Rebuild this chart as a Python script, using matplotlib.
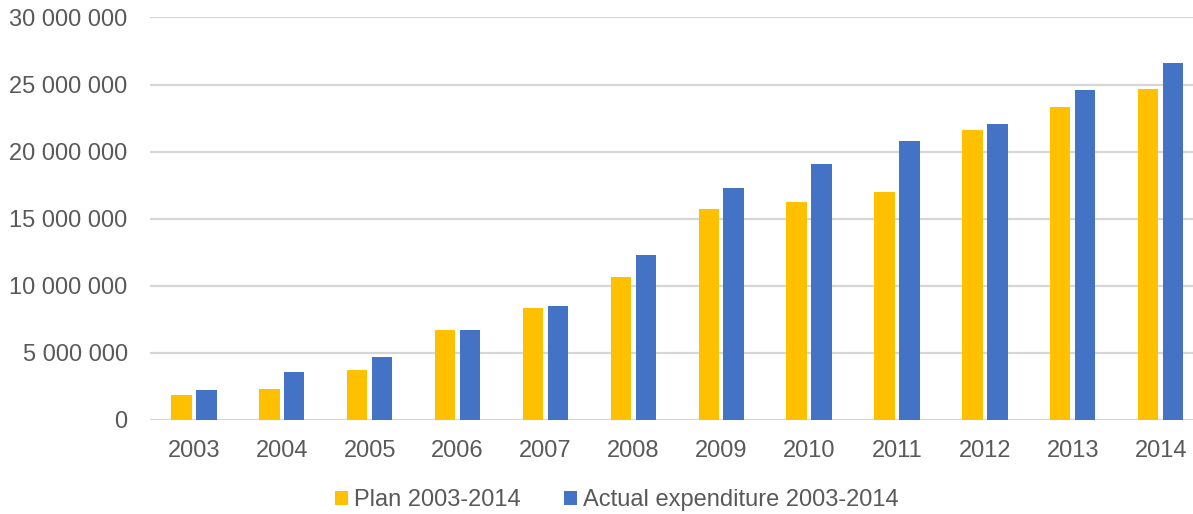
import numpy as np
import matplotlib.pyplot as plt
from matplotlib.ticker import FuncFormatter

plt.rcParams['font.family'] = ['Liberation Sans', 'DejaVu Sans']

years = ['2003', '2004', '2005', '2006', '2007', '2008',
         '2009', '2010', '2011', '2012', '2013', '2014']
plan = [1820000, 2290000, 3680000, 6670000, 8310000, 10620000,
        15730000, 16230000, 17000000, 21580000, 23340000, 24640000]
actual = [2210000, 3530000, 4650000, 6670000, 8500000, 12260000,
          17250000, 19090000, 20800000, 22070000, 24560000, 26620000]

PLAN_COLOR = '#FFC000'
ACTUAL_COLOR = '#4472C4'
TEXT_COLOR = '#595959'

fig = plt.figure(figsize=(11.93, 5.14), dpi=100)
ax = fig.add_axes([0.1257, 0.1835, 0.884, 0.7825])

x = np.arange(len(years))
w = 0.232
ax.bar(x - 0.142, plan, width=w, color=PLAN_COLOR, label='Plan 2003-2014', zorder=3)
ax.bar(x + 0.142, actual, width=w, color=ACTUAL_COLOR, label='Actual expenditure 2003-2014', zorder=3)

ax.set_xlim(-0.5, len(years) - 0.5)
ax.set_ylim(0, 30000000)
ax.set_yticks(np.arange(0, 30000001, 5000000))
ax.yaxis.set_major_formatter(FuncFormatter(lambda v, p: '{:,.0f}'.format(v).replace(',', ' ')))
ax.set_xticks(x)
ax.set_xticklabels(years)

# light grey gridlines, no frame
ax.grid(axis='y', color='#D6D6D6', linewidth=1.6, zorder=0)
for s in ax.spines.values():
    s.set_visible(False)
ax.tick_params(axis='both', length=0, labelsize=17, labelcolor=TEXT_COLOR)
ax.tick_params(axis='y', pad=16)
ax.tick_params(axis='x', pad=14.5)

fig.legend(loc='center', bbox_to_anchor=(0.517, 0.027), ncol=2, frameon=False,
           fontsize=17, labelcolor=TEXT_COLOR, handlelength=0.55, handleheight=0.55,
           handletextpad=0.25, columnspacing=1.85)

fig.savefig('out.png', dpi=100)
